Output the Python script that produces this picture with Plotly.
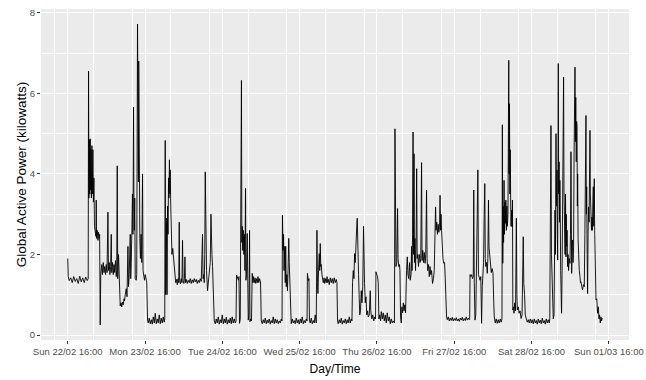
import pandas as pd
import plotly.graph_objects as go

start = "2009-02-22 16:00"

hours = [
    0.00, 0.16, 0.47, 0.93, 1.40, 1.86, 2.33, 2.79, 3.26, 3.73, 4.19, 4.66, 5.12, 5.59, 6.05, 6.36,
    6.46, 6.58, 6.74, 6.86, 6.99, 7.11, 7.23, 7.36, 7.51, 7.64, 7.82, 7.98, 8.13, 8.29, 8.54, 8.76,
    8.85, 8.94, 9.16, 9.38, 9.56, 9.78, 9.90, 10.09, 10.25, 10.40, 10.56, 10.77, 11.02, 11.27, 11.49,
    11.74, 11.95, 12.20, 12.48, 12.64, 12.88, 13.10, 13.32, 13.51, 13.66, 13.91, 14.13, 14.38, 14.59,
    14.84, 15.06, 15.21, 15.37, 15.52, 15.77, 15.93, 16.08, 16.30, 16.55, 16.77, 17.01, 17.23, 17.48,
    17.64, 17.85, 18.16, 18.41, 18.69, 18.88, 19.09, 19.41, 19.56, 19.72, 19.93, 20.09, 20.24, 20.43,
    20.55, 20.68, 20.80, 20.96, 21.27, 21.42, 21.67, 21.76, 21.86, 21.95, 22.04, 22.14, 22.26, 22.39,
    22.57, 22.76, 22.98, 23.22, 23.38, 23.60, 23.84, 24.06, 24.28, 24.53,
    24.78, 24.99, 25.30, 25.61, 25.93, 26.24, 26.55, 26.86, 27.17, 27.48, 27.79, 28.10, 28.41, 28.72,
    29.03, 29.34, 29.65, 29.96, 30.12, 30.27, 30.37, 30.52, 30.68, 30.83, 30.99, 31.14, 31.30, 31.42,
    31.58, 31.70, 31.82, 31.98, 32.13, 32.35, 32.60, 32.85, 33.07, 33.28, 33.53, 33.78, 34.00, 34.25,
    34.46, 34.62, 34.74, 34.99, 35.24, 35.46, 35.64, 35.80, 36.05, 36.23, 36.39, 36.54, 36.79, 37.10,
    37.41, 37.72, 38.03, 38.34, 38.65, 38.97, 39.28, 39.59, 39.90, 40.21, 40.52, 40.83, 41.14, 41.45,
    41.85, 42.01, 42.23, 42.38, 42.54, 42.69, 42.85, 42.94, 43.09, 43.41, 43.62, 43.93, 44.24, 44.46,
    44.62, 44.77, 44.96, 45.17,
    45.49, 45.80, 46.11, 46.42, 46.73, 47.04, 47.35, 47.66, 47.97, 48.28, 48.59, 48.90, 49.21, 49.52,
    49.83, 50.14, 50.45, 50.76, 51.07, 51.38, 51.70, 52.01, 52.25, 52.41, 52.72, 53.00, 53.15, 53.34,
    53.56, 53.74, 53.93, 54.05, 54.18, 54.33, 54.49, 54.68, 54.86, 55.02, 55.20, 55.33, 55.51, 55.73,
    55.89, 56.04, 56.23, 56.45, 56.57, 56.82, 57.04, 57.28, 57.47, 57.69, 57.90, 58.15, 58.37, 58.62,
    58.84, 59.08, 59.30, 59.55, 59.86,
    60.08, 60.39, 60.70, 61.01, 61.32, 61.63, 61.94, 62.25, 62.56, 62.87, 63.18, 63.49, 63.80, 64.11,
    64.42, 64.74, 65.05, 65.36, 65.67, 65.98, 66.29, 66.54, 66.66, 66.82, 67.00, 67.16, 67.37, 67.53,
    67.68, 67.84, 68.03, 68.21, 68.40, 68.62, 68.77, 68.96, 69.17,
    69.39, 69.70, 70.01, 70.32, 70.63, 70.94, 71.26, 71.57, 71.88, 72.19, 72.50, 72.81, 73.12, 73.43,
    73.74, 74.05, 74.30, 74.42, 74.67, 74.89, 75.04, 75.29, 75.60, 75.91, 76.22, 76.53, 76.84, 77.15,
    77.37, 77.53, 77.68, 77.87, 78.09, 78.24, 78.40, 78.55, 78.71, 78.92, 79.11, 79.33, 79.58, 79.79,
    80.04, 80.26, 80.51, 80.72, 80.97, 81.19, 81.50, 81.81, 82.12, 82.43, 82.74, 83.05, 83.36, 83.58,
    83.77, 83.98, 84.30, 84.61, 84.92, 85.23, 85.54, 85.85, 86.16, 86.47, 86.78, 87.09, 87.40, 87.71,
    88.02, 88.24, 88.42, 88.64, 88.86, 89.05, 89.26, 89.42, 89.57, 89.73, 89.88, 90.04, 90.29, 90.50,
    90.66, 90.88, 91.13, 91.34, 91.59, 91.84, 92.00, 92.15, 92.37, 92.59, 92.83, 93.08, 93.30, 93.61,
    93.92, 94.08, 94.39, 94.70, 95.01, 95.32, 95.57, 95.69, 95.94, 96.19, 96.40, 96.59, 96.87, 97.12,
    97.34, 97.65, 97.96, 98.27, 98.58, 98.89, 99.20, 99.51, 99.82, 100.13, 100.44, 100.75, 101.06,
    101.43, 101.59, 101.74, 101.90, 102.15, 102.40, 102.55, 102.77, 102.99, 103.14, 103.33, 103.55,
    103.73, 103.95, 104.17, 104.41, 104.63, 104.88, 105.19, 105.41, 105.62, 105.87, 106.12, 106.34,
    106.59, 106.74, 106.90, 107.05, 107.21, 107.33, 107.52, 107.64, 107.80, 107.98, 108.14, 108.33,
    108.48, 108.67, 108.89, 109.13, 109.38, 109.60, 109.85, 110.00, 110.22, 110.44, 110.69, 110.94,
    111.15, 111.40, 111.56, 111.77, 112.02, 112.24, 112.49, 112.70, 112.95, 113.26, 113.54, 113.79,
    114.01, 114.20, 114.35, 114.57, 114.78, 115.00, 115.22, 115.44, 115.59, 115.75, 115.90, 116.06,
    116.27, 116.49, 116.74, 116.99, 117.21, 117.42, 117.61,
    117.83, 118.14, 118.45, 118.76, 119.07, 119.38, 119.69, 120.00, 120.31, 120.62, 120.93, 121.24,
    121.55, 121.86, 122.17, 122.48, 122.79, 123.10, 123.42, 123.73, 124.04, 124.35, 124.66,
    124.78, 124.90, 125.15, 125.40, 125.65, 125.90, 126.05, 126.21, 126.43, 126.68, 126.92, 127.33,
    127.51, 127.76, 128.01, 128.23, 128.47, 128.69, 128.85, 129.10, 129.28, 129.47, 129.63, 129.78,
    130.03, 130.25, 130.43, 130.62, 130.78, 130.96, 131.18, 131.49, 131.74, 132.02, 132.26, 132.42,
    132.73, 133.04, 133.35, 133.66, 133.97, 134.28, 134.59,
    134.81, 134.93, 135.06, 135.18, 135.31, 135.46, 135.59, 135.74, 135.86, 136.02, 136.18, 136.33,
    136.49, 136.67, 136.80, 136.92, 137.02, 137.14, 137.26, 137.39, 137.51, 137.64, 137.79, 137.95,
    138.07, 138.19, 138.38, 138.54, 138.78, 139.03, 139.28, 139.44, 139.59, 139.87, 140.12, 140.43,
    140.74, 141.05, 141.27, 141.42, 141.58, 141.83, 142.04,
    142.36, 142.67, 142.98, 143.29, 143.60, 143.91, 144.22, 144.53, 144.84, 145.15, 145.46, 145.77,
    146.08, 146.39, 146.70, 147.01, 147.32, 147.63, 147.94, 148.25, 148.56, 148.87, 149.18, 149.49,
    149.65, 149.77, 149.90, 150.02, 150.18, 150.33, 150.52, 150.74, 150.96, 151.14, 151.27, 151.42,
    151.58, 151.73, 151.89, 152.01, 152.10, 152.20, 152.29, 152.41, 152.54, 152.66, 152.79, 152.91,
    153.03, 153.13, 153.31, 153.47, 153.62, 153.78, 153.94, 154.06, 154.15, 154.28, 154.40, 154.53,
    154.68, 154.77, 154.90, 155.02, 155.18, 155.33, 155.49, 155.70, 155.92, 156.08, 156.23, 156.36,
    156.45, 156.60, 156.73, 156.88, 157.04, 157.20, 157.35, 157.48, 157.60, 157.72, 157.88, 158.00,
    158.10, 158.22, 158.31, 158.44, 158.59, 158.81, 159.03, 159.18, 159.34, 159.59, 159.83, 160.11,
    160.36, 160.55, 160.73, 160.89, 161.01, 161.11, 161.26, 161.39, 161.54, 161.70, 161.85, 162.01,
    162.13, 162.26, 162.44, 162.60, 162.75, 162.88, 163.03, 163.16, 163.31, 163.47, 163.62, 163.78,
    164.00, 164.24, 164.49, 164.71, 164.93, 165.11, 165.33, 165.55, 165.73, 165.95,
]

power = [
    1.9, 1.45, 1.35, 1.42, 1.30, 1.45, 1.33, 1.40, 1.28, 1.46, 1.32, 1.42, 1.30, 1.44, 1.35, 1.40,
    6.55, 3.4, 4.85, 3.5, 4.87, 3.6, 4.6, 3.4, 4.7, 3.5, 4.6, 3.3, 3.9, 2.7, 2.6, 2.45,
    3.35, 2.4, 2.6, 2.35, 2.55, 2.4, 2.5, 0.25, 1.5, 1.6, 1.75, 1.5, 1.8, 1.55, 1.7,
    1.5, 1.75, 1.55, 3.05, 1.6, 1.8, 1.5, 1.7, 2.5, 1.55, 1.8, 1.5, 1.75, 1.55,
    1.85, 1.45, 1.6, 4.2, 1.4, 2.0, 1.6, 0.85, 0.72, 0.8, 0.7, 0.82, 0.75, 0.9,
    0.85, 1.0, 1.15, 0.95, 2.2, 1.2, 1.5, 2.5, 1.4, 1.8, 2.6, 3.5, 2.5, 5.66,
    3.3, 2.6, 3.4, 1.4, 1.36, 1.5, 7.72, 4.5, 7.2, 3.8, 6.8, 4.0, 5.0, 2.4,
    1.9, 2.5, 1.8, 4.0, 1.6, 1.5, 1.36, 1.5, 1.35, 1.3,
    0.37, 0.3, 0.42, 0.28, 0.38, 0.27, 0.45, 0.3, 0.54, 0.28, 0.4, 0.3, 0.5, 0.28,
    0.42, 0.3, 0.45, 0.32, 0.4, 4.83, 1.0, 1.2, 2.9, 1.0, 3.2, 2.5, 3.9, 3.4,
    4.35, 3.5, 4.1, 3.2, 2.2, 2.0, 2.15, 1.9, 1.86, 1.45, 1.3, 1.38, 1.25, 1.4,
    1.3, 2.8, 1.35, 1.27, 1.4, 1.3, 2.35, 1.35, 1.28, 1.4, 1.94, 1.3, 1.38, 1.28,
    1.36, 1.3, 1.4, 1.28, 1.37, 1.3, 1.4, 1.32, 1.38, 1.28, 1.36, 1.3, 1.4, 1.33,
    2.5, 1.4, 1.5, 1.3, 2.0, 4.05, 2.0, 3.18, 1.6, 1.1, 1.3, 1.5, 1.8, 3.0,
    2.2, 2.0, 1.7, 1.28,
    0.35, 0.28, 0.4, 0.3, 0.45, 0.27, 0.38, 0.3, 0.5, 0.28, 0.4, 0.3, 0.44, 0.27,
    0.38, 0.3, 0.42, 0.28, 0.45, 0.3, 0.4, 0.3, 0.35, 1.49, 1.4, 1.36, 1.45, 0.29,
    0.4, 2.3, 6.32, 2.3, 2.7, 2.1, 2.6, 2.0, 2.5, 1.6, 3.64, 1.36, 1.5, 2.52,
    1.4, 0.37, 0.5, 2.6, 0.33, 0.4, 0.35, 1.53, 1.3, 1.45, 1.3, 1.42, 1.28, 1.4,
    1.3, 1.45, 1.3, 1.4, 1.32,
    0.35, 0.28, 0.38, 0.3, 0.42, 0.28, 0.37, 0.3, 0.4, 0.27, 0.36, 0.3, 0.45, 0.28,
    0.4, 0.3, 0.38, 0.28, 0.35, 0.3, 0.4, 0.35, 2.97, 2.1, 2.5, 1.6, 2.2, 1.3,
    2.2, 1.2, 1.5, 1.1, 1.6, 2.4, 1.8, 1.2, 0.35,
    0.28, 0.4, 0.3, 0.36, 0.28, 0.42, 0.3, 0.38, 0.27, 0.4, 0.3, 0.45, 0.28, 0.36,
    0.3, 0.4, 0.35, 1.53, 1.35, 1.4, 0.35, 0.3, 0.42, 0.28, 0.36, 0.3, 0.5, 0.3,
    2.6, 1.3, 1.03, 1.6, 2.02, 1.6, 2.27, 1.7, 1.75, 1.5, 1.4, 1.3, 1.42, 1.28,
    1.4, 1.3, 1.45, 1.3, 1.38, 1.25, 1.42, 1.3, 1.4, 1.28, 1.42, 1.3, 1.38, 1.3,
    0.35, 0.28, 0.38, 0.3, 0.42, 0.27, 0.36, 0.3, 0.4, 0.28, 0.38, 0.3, 0.45, 0.3,
    0.4, 0.35, 1.3, 1.6, 1.4, 2.02, 1.8, 2.4, 2.1, 2.7, 2.9, 2.0, 1.5, 0.9,
    0.5, 0.6, 1.1, 0.8, 1.2, 2.7, 1.5, 1.28, 0.8, 0.95, 0.5, 0.6, 0.45, 0.5,
    1.1, 0.6, 0.4, 0.5, 0.35, 0.45, 0.4, 1.57, 1.5, 1.45, 1.3, 0.4, 0.5, 0.35,
    0.58, 0.4, 0.55, 0.35, 0.5, 0.3, 0.55, 0.35, 0.45, 0.28, 0.4, 0.3, 0.35,
    0.3, 5.12, 2.8, 1.7, 1.8, 3.14, 1.9, 1.7, 1.75, 1.6, 0.45, 0.3,
    0.7, 0.55, 0.8, 0.6, 0.75, 0.55, 1.6, 1.94, 1.5, 1.4, 1.8, 1.36,
    1.5, 2.2, 1.6, 2.5, 5.04, 2.0, 4.5, 1.8, 2.4, 1.6, 2.2, 4.13,
    1.9, 2.0, 1.7, 2.0, 1.8, 1.9, 4.28, 1.85, 2.1, 1.8, 2.05, 1.78,
    2.0, 3.6, 1.9, 1.6, 1.75, 1.45, 1.7, 1.5, 1.6, 1.28, 1.4, 1.6,
    2.5, 3.18, 2.6, 2.8, 2.5, 2.75, 2.55, 2.7, 3.47, 2.6, 3.0, 2.6,
    2.2, 1.9, 1.78, 1.8, 1.4, 0.79, 0.45,
    0.38, 0.45, 0.35, 0.42, 0.36, 0.44, 0.35, 0.41, 0.36, 0.43, 0.35, 0.4,
    0.34, 0.42, 0.37, 0.44, 0.35, 0.41, 0.36, 0.45, 0.37, 0.42, 0.38,
    0.4, 1.5, 1.45, 1.5, 1.4, 1.45, 3.6, 1.3, 0.37, 0.5, 1.5, 4.1,
    1.5, 1.45, 1.36, 1.45, 0.29, 1.2, 1.53, 1.8, 2.9, 3.76, 1.9, 1.7,
    1.8, 1.53, 1.9, 3.35, 2.2, 1.98, 1.7, 1.55, 1.65, 1.55, 0.8, 0.45,
    0.3, 0.4, 0.29, 0.38, 0.3, 0.4, 0.32,
    0.4, 5.22, 1.78, 3.2, 2.3, 3.84, 2.5, 3.3, 2.77, 3.35, 2.6, 3.2,
    2.7, 3.0, 4.5, 6.82, 4.0, 5.74, 3.5, 4.6, 3.3, 2.7, 3.1, 2.69,
    3.35, 0.62, 0.7, 0.54, 0.8, 0.6, 2.9, 1.0, 0.62, 0.7, 0.54, 0.6,
    0.41, 0.5, 1.3, 2.44, 1.28, 1.0, 0.5,
    0.4, 0.32, 0.38, 0.3, 0.4, 0.3, 0.38, 0.28, 0.4, 0.3, 0.36, 0.27,
    0.4, 0.3, 0.37, 0.28, 0.42, 0.3, 0.36, 0.27, 0.4, 0.3, 0.38, 0.3,
    0.4, 4.34, 3.0, 5.2, 2.0, 1.53, 0.54, 0.4, 0.5, 1.5, 3.1, 2.0,
    5.0, 3.2, 4.1, 2.5, 1.86, 4.3, 6.74, 3.5, 4.3, 2.8, 3.84, 3.0,
    1.6, 0.74, 0.54, 1.5, 3.18, 5.0, 6.4, 3.6, 2.36, 3.3, 2.0, 3.5,
    1.94, 3.0, 2.2, 2.6, 1.7, 2.0, 1.6, 1.9, 1.78, 2.5, 4.55, 2.0,
    1.53, 2.1, 2.36, 1.8, 2.19, 4.5, 5.5, 6.65, 4.8, 5.9, 4.3, 5.3,
    5.17, 3.2, 4.0, 2.4, 1.7, 1.6, 1.45, 1.3, 1.32, 1.2, 1.12, 1.25,
    1.2, 2.5, 4.0, 5.45, 3.0, 3.68, 2.0, 1.03, 2.5, 3.18, 2.8, 4.0,
    5.08, 3.5, 3.18, 2.6, 2.93, 2.6, 3.3, 3.68, 2.7, 3.88, 2.5, 1.2,
    0.87, 0.9, 0.54, 0.7, 0.4, 0.5, 0.3, 0.45, 0.35, 0.42,
]

x_title = "Day/Time"
y_title = "Global Active Power (kilowatts)"
y_tick_values = [0, 2, 4, 6, 8]
tick_format = "%a %d/%m %H:%M"

assert len(hours) == len(power), (len(hours), len(power))

times = pd.Timestamp(start) + pd.to_timedelta(hours, unit="h")

# ggplot-style 5% expansion of the data range
t0, t1 = times.min(), times.max()
tpad = (t1 - t0) * 0.05
vmin, vmax = min(power), max(power)
vpad = (vmax - vmin) * 0.05

fig = go.Figure(
    go.Scatter(
        x=times,
        y=power,
        mode="lines",
        line=dict(color="black", width=0.9),
        hoverinfo="skip",
    )
)

font_family = "Liberation Sans, Arial, sans-serif"

fig.update_layout(
    width=646,
    height=380,
    margin=dict(l=41, r=17, t=9, b=40),
    paper_bgcolor="white",
    plot_bgcolor="#EBEBEB",
    showlegend=False,
    font=dict(family=font_family, color="#4D4D4D", size=9.5),
)

fig.update_xaxes(
    range=[t0 - tpad, t1 + tpad],
    tick0=start,
    dtick=86400000,
    tickformat=tick_format,
    ticks="outside",
    ticklen=3,
    tickwidth=1,
    tickcolor="#333333",
    tickfont=dict(size=9.5, color="#4D4D4D"),
    showgrid=True,
    gridcolor="white",
    gridwidth=1.1,
    minor=dict(dtick=43200000, showgrid=True, gridcolor="white", gridwidth=0.5),
    zeroline=False,
    showline=False,
    automargin=False,
    title=dict(text=x_title, font=dict(size=12, color="black"), standoff=8),
)

fig.update_yaxes(
    range=[vmin - vpad, vmax + vpad],
    tickvals=y_tick_values,
    ticks="outside",
    ticklen=3,
    tickwidth=1,
    tickcolor="#333333",
    tickfont=dict(size=9.5, color="#4D4D4D"),
    showgrid=True,
    gridcolor="white",
    gridwidth=1.1,
    minor=dict(dtick=1, tick0=0, showgrid=True, gridcolor="white", gridwidth=0.5),
    zeroline=False,
    showline=False,
    automargin=False,
    title=dict(text=y_title, font=dict(size=13.5, color="black"), standoff=0),
)

fig.write_html("out.html")
